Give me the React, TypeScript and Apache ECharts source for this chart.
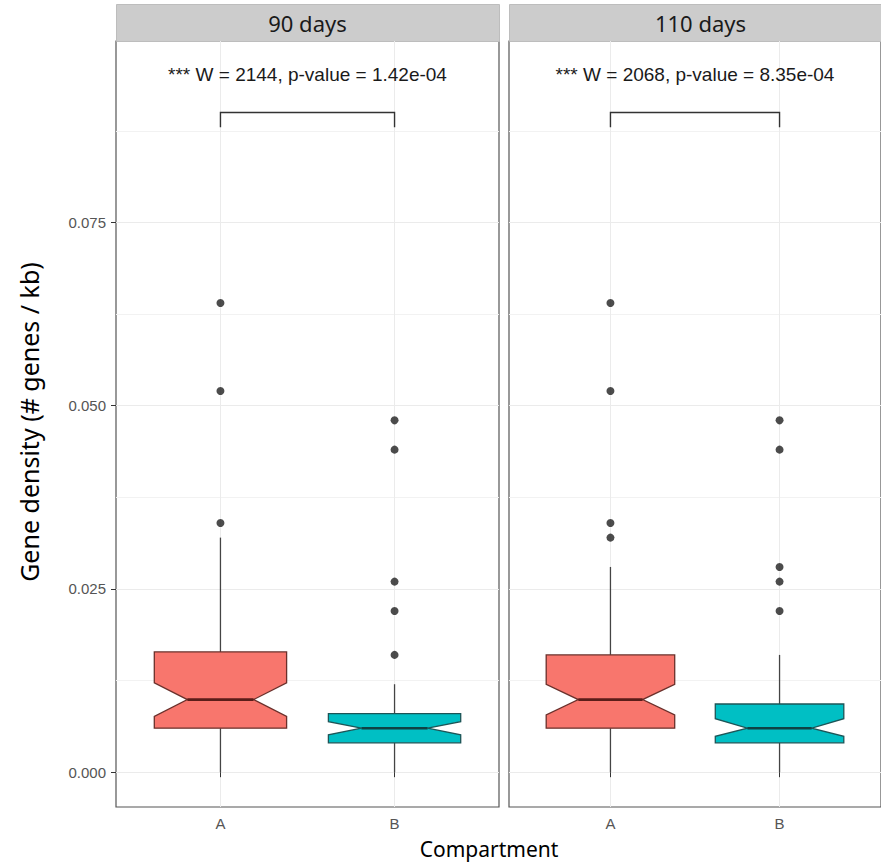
import React, { useEffect, useRef } from 'react';
import * as echarts from 'echarts';

// ---- data ----
const categories = ['A', 'B'];
const panels = ['90 days', '110 days'];
// [lower whisker, Q1, notch low, median, notch high, Q3, upper whisker]
const box90A = [0, 0.006, 0.0076, 0.0099, 0.0122, 0.0164, 0.032];
const box90B = [0, 0.004, 0.0051, 0.006, 0.0069, 0.008, 0.012];
const box110A = [0, 0.006, 0.0078, 0.0099, 0.012, 0.016, 0.028];
const box110B = [0, 0.004, 0.0049, 0.006, 0.0073, 0.0093, 0.016];
const out90A = [0.064, 0.052, 0.034];
const out90B = [0.048, 0.044, 0.026, 0.022, 0.016];
const out110A = [0.064, 0.052, 0.034, 0.032];
const out110B = [0.048, 0.044, 0.028, 0.026, 0.022];
const yTicks = [0, 0.025, 0.05, 0.075];
const yMinor = [0.0125, 0.0375, 0.0625, 0.0875];
const xTicks = [1, 2];
const annotations = ['*** W = 2144, p-value = 1.42e-04', '*** W = 2068, p-value = 8.35e-04'];
const bracketX = [1, 2];
const bracketY = [0.088, 0.09];
const labelY = 0.095;
const yTitle = 'Gene density (# genes / kb)';
const xTitle = 'Compartment';

const fills = ['#F8766D', '#00BFC4'];
const outlines = ['#6a302b', '#1d5557'];
const medians = ['#5a1d19', '#0e4345'];

const GRID_TOP = 41;
const GRID_H = 766;
const GRID_W = 383;
const GRID_LEFT = [116, 509];

export default function App() {
  const ref = useRef<HTMLDivElement>(null);
  useEffect(() => {
    if (!ref.current) return;
    const chart = echarts.init(ref.current, null, { renderer: 'svg' });
    const boxes = [
      [box90A, box90B],
      [box110A, box110B],
    ];
    const outs = [
      [out90A, out90B],
      [out110A, out110B],
    ];
    const tickFont = 'Liberation Sans, Arial, sans-serif';
    const titleFont = 'Noto Sans, Open Sans, sans-serif';

    const grid = GRID_LEFT.map((l) => ({
      left: l,
      top: GRID_TOP,
      width: GRID_W,
      height: GRID_H,
      show: true,
      borderColor: '#555555',
      borderWidth: 1.2,
      backgroundColor: '#ffffff',
      containLabel: false,
    }));

    const xAxis = [0, 1].map((i) => ({
      type: 'value',
      gridIndex: i,
      min: 0.4,
      max: 2.6,
      axisLine: { show: false },
      axisTick: { show: true, customValues: xTicks, length: 5, lineStyle: { color: '#333333', width: 1 } },
      axisLabel: {
        show: true,
        customValues: xTicks,
        formatter: (v: number) => categories[Math.round(v) - 1] ?? '',
        fontSize: 15,
        color: '#555555',
        fontFamily: tickFont,
        margin: 9,
      },
      splitLine: { show: true, lineStyle: { color: '#ebebeb', width: 1 } },
    }));

    const yAxis: any[] = [0, 1].map((i) => ({
      type: 'value',
      gridIndex: i,
      min: -0.00475,
      max: 0.09975,
      axisLine: { show: false },
      axisTick: { show: i === 0, customValues: yTicks, length: 5, lineStyle: { color: '#333333', width: 1 } },
      axisLabel: {
        show: i === 0,
        customValues: yTicks,
        formatter: (v: number) => v.toFixed(3),
        fontSize: 15,
        color: '#555555',
        fontFamily: tickFont,
        margin: 10,
      },
      splitLine: { show: true, lineStyle: { color: '#ebebeb', width: 1 } },
    }));
    [0, 1].forEach((i) => {
      yAxis.push({
        type: 'value',
        gridIndex: i,
        position: 'left',
        min: -0.00475,
        max: 0.09975,
        axisLine: { show: false },
        axisTick: { show: false, customValues: yMinor },
        axisLabel: { show: false, customValues: yMinor },
        splitLine: { show: true, lineStyle: { color: '#f2f2f2', width: 1 } },
      });
    });

    const series: any[] = [];
    [0, 1].forEach((p) => {
      series.push({
        type: 'custom',
        xAxisIndex: p,
        yAxisIndex: p,
        z: 3,
        data: boxes[p].map((b, k) => [xTicks[k], ...b]),
        renderItem: (params: any, api: any) => {
          const x = api.value(0);
          const lo = api.value(1), q1 = api.value(2), nl = api.value(3), md = api.value(4);
          const nh = api.value(5), q3 = api.value(6), hi = api.value(7);
          const hw = 0.38, nw = 0.19;
          const P = (dx: number, y: number) => api.coord([x + dx, y]);
          const k = params.dataIndex;
          const a = P(0, q3), b = P(0, hi), c = P(0, q1), d = P(0, lo);
          const m1 = P(-nw, md), m2 = P(nw, md);
          return {
            type: 'group',
            children: [
              { type: 'line', shape: { x1: a[0], y1: a[1], x2: b[0], y2: b[1] }, style: { stroke: '#444444', lineWidth: 1.3 } },
              { type: 'line', shape: { x1: c[0], y1: c[1], x2: d[0], y2: d[1] }, style: { stroke: '#444444', lineWidth: 1.3 } },
              {
                type: 'polygon',
                shape: {
                  points: [P(-hw, q3), P(hw, q3), P(hw, nh), P(nw, md), P(hw, nl), P(hw, q1), P(-hw, q1), P(-hw, nl), P(-nw, md), P(-hw, nh)],
                },
                style: { fill: fills[k], stroke: outlines[k], lineWidth: 1.3 },
              },
              { type: 'line', shape: { x1: m1[0], y1: m1[1], x2: m2[0], y2: m2[1] }, style: { stroke: medians[k], lineWidth: 2.6 } },
            ],
          };
        },
      });
      series.push({
        type: 'scatter',
        xAxisIndex: p,
        yAxisIndex: p,
        z: 4,
        symbol: 'circle',
        symbolSize: 8,
        itemStyle: { color: '#1f1f1f' },
        data: outs[p].flatMap((arr, k) => arr.map((v) => [xTicks[k], v])),
      });
      series.push({
        type: 'custom',
        xAxisIndex: p,
        yAxisIndex: p,
        z: 5,
        data: [[bracketX[0], bracketX[1], bracketY[0], bracketY[1], labelY]],
        renderItem: (params: any, api: any) => {
          const x1 = api.value(0), x2 = api.value(1), yf = api.value(2), yt = api.value(3), yl = api.value(4);
          const pts = [api.coord([x1, yf]), api.coord([x1, yt]), api.coord([x2, yt]), api.coord([x2, yf])];
          const lp = api.coord([(x1 + x2) / 2, yl]);
          return {
            type: 'group',
            children: [
              { type: 'polyline', shape: { points: pts }, style: { stroke: '#333333', lineWidth: 1.4, fill: 'none' } },
              {
                type: 'text',
                x: lp[0],
                y: lp[1] - 1,
                style: {
                  text: annotations[p],
                  fontSize: 19,
                  fontFamily: tickFont,
                  fill: '#1a1a1a',
                  align: 'center',
                  verticalAlign: 'middle',
                },
              },
            ],
          };
        },
      });
    });

    const graphic: any[] = [];
    [0, 1].forEach((p) => {
      graphic.push({
        type: 'rect',
        left: GRID_LEFT[p],
        top: 4,
        shape: { width: GRID_W, height: GRID_TOP - 4 },
        style: { fill: '#cccccc', stroke: '#bdbdbd', lineWidth: 1 },
      });
      graphic.push({
        type: 'text',
        x: GRID_LEFT[p] + GRID_W / 2,
        y: 23,
        style: {
          text: panels[p],
          fontSize: 22,
          fontFamily: titleFont,
          fill: '#1a1a1a',
          align: 'center',
          verticalAlign: 'middle',
        },
      });
    });
    graphic.push({
      type: 'text',
      x: 489,
      y: 849,
      style: { text: xTitle, fontSize: 21, fontFamily: titleFont, fill: '#000000', align: 'center', verticalAlign: 'middle' },
    });
    graphic.push({
      type: 'text',
      x: 29,
      y: 422,
      rotation: Math.PI / 2,
      style: { text: yTitle, fontSize: 25, fontFamily: titleFont, fill: '#000000', align: 'center', verticalAlign: 'middle' },
    });

    chart.setOption({
      animation: false,
      backgroundColor: '#ffffff',
      grid,
      xAxis,
      yAxis,
      series,
      graphic,
    });
    return () => chart.dispose();
  }, []);
  return <div ref={ref} style={{ position: 'absolute', left: 0, top: 0, width: 881, height: 866 }} />;
}
